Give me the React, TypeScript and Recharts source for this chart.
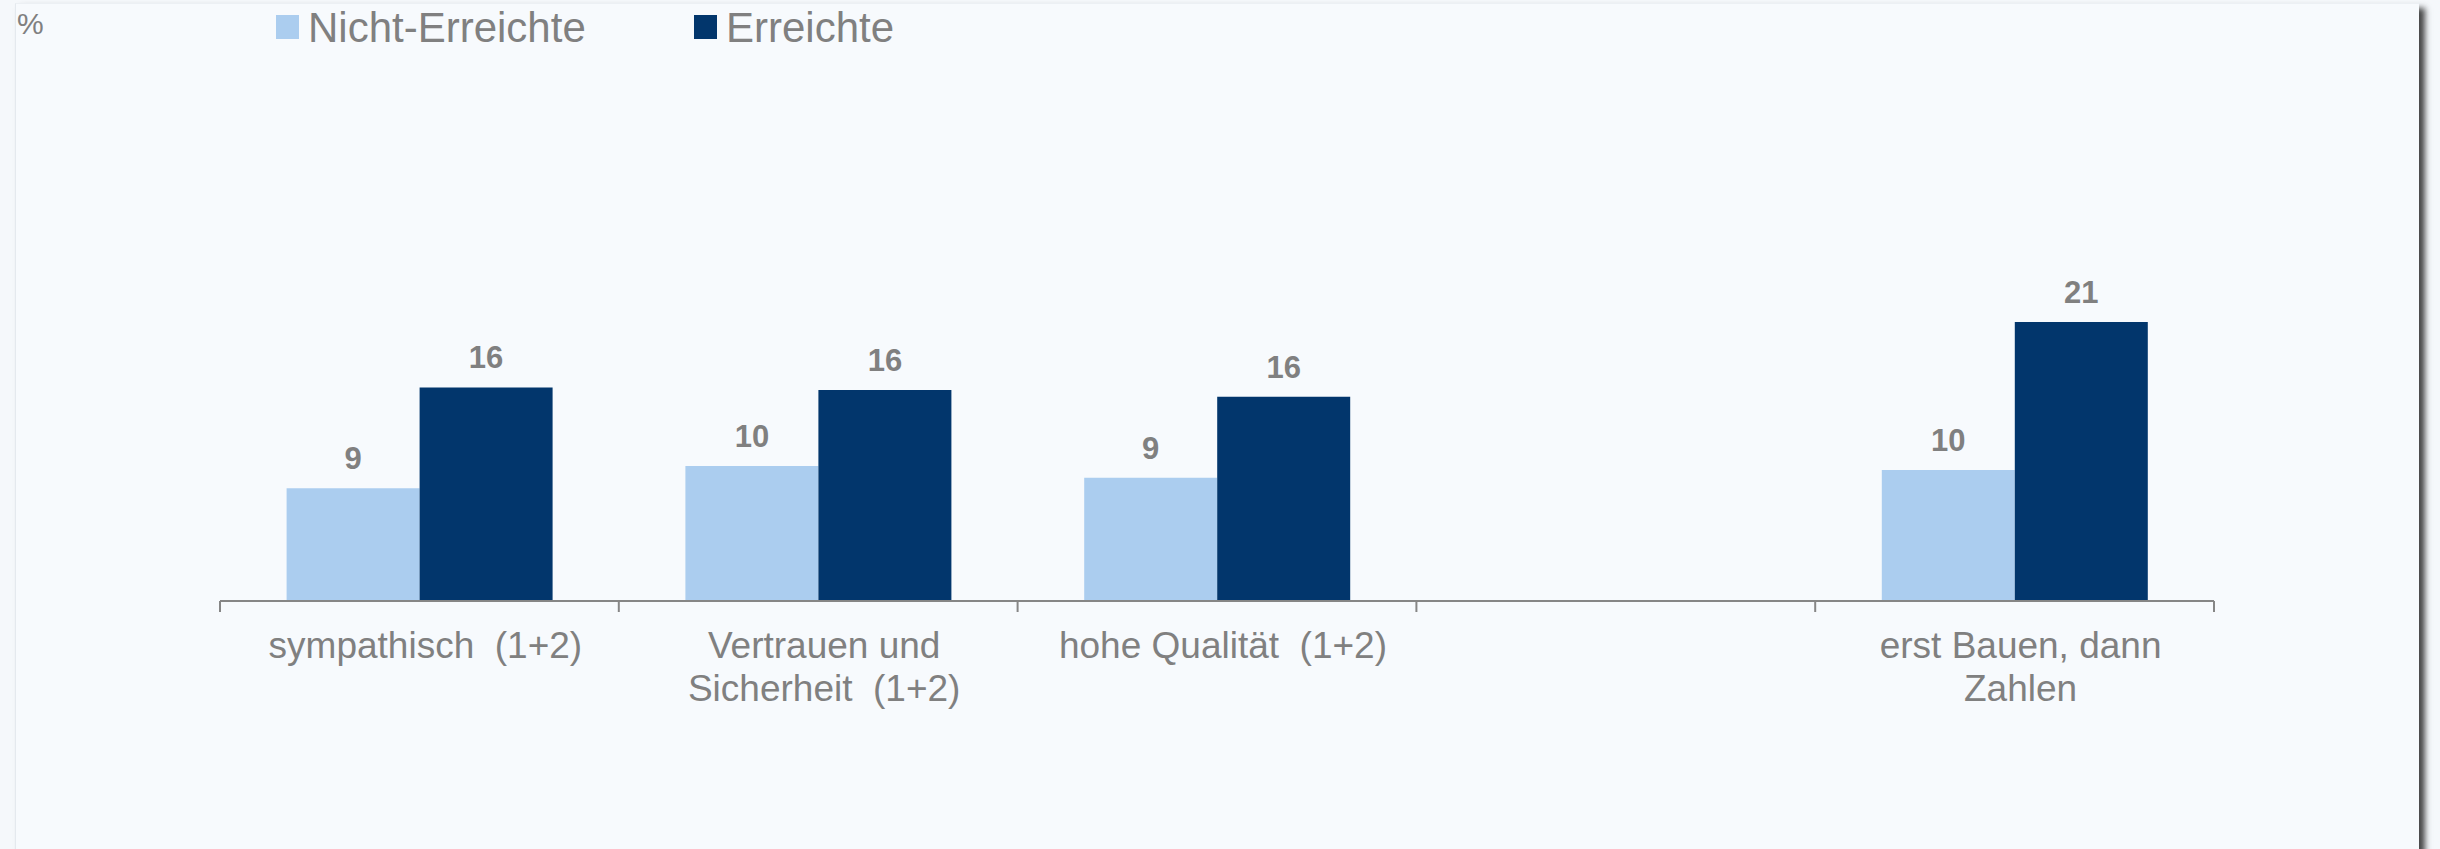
import React from "react";
import { BarChart, Bar, XAxis, YAxis, LabelList } from "recharts";

const categories = [
  "sympathisch  (1+2)",
  "Vertrauen und\nSicherheit  (1+2)",
  "hohe Qualität  (1+2)",
  "",
  "erst Bauen, dann\nZahlen",
];
const nichtErreichte = [8.6, 10.3, 9.4, null, 10.0];
const erreichte = [16.3, 16.1, 15.6, null, 21.3];
const seriesNames = ["Nicht-Erreichte", "Erreichte"];
const seriesColors = ["#ABCDEF", "#02366C"];

const W = 2440;
const H = 849;
const MARGIN = { top: 77, right: 226, bottom: 0, left: 220 };
const BAND = (W - MARGIN.left - MARGIN.right) / categories.length;
const GRAY = "#808080";
const FONT = "'Liberation Sans', Arial, sans-serif";

const data = categories.map((name, i) => ({
  name,
  nicht: nichtErreichte[i],
  erreicht: erreichte[i],
}));

function CategoryTick(props: any) {
  const { x, y, payload, index } = props;
  const lines = String(payload.value).split("\n");
  const left = x - BAND / 2;
  const tx = x + 6;
  return (
    <g>
      <line x1={left} x2={left} y1={y} y2={y + 11} stroke="#868686" strokeWidth={2} />
      {index === categories.length - 1 && (
        <line x1={left + BAND} x2={left + BAND} y1={y} y2={y + 11} stroke="#868686" strokeWidth={2} />
      )}
      <text
        x={tx}
        y={y + 57}
        textAnchor="middle"
        fill={GRAY}
        fontSize={37}
        fontFamily={FONT}
        style={{ whiteSpace: "pre" }}
      >
        {lines.map((l, i) => (
          <tspan key={i} x={tx} dy={i === 0 ? 0 : 43}>
            {l}
          </tspan>
        ))}
      </text>
    </g>
  );
}

const roundLabel = (v: any) => (v == null ? "" : Math.round(v));

export default function App() {
  return (
    <div
      style={{
        position: "absolute",
        left: 0,
        top: 0,
        width: W,
        height: H,
        background: "#F5F8FB",
        overflow: "hidden",
      }}
    >
      <div
        style={{
          position: "absolute",
          left: 15,
          top: 3,
          width: 2403,
          height: 900,
          background: "#F7FAFD",
          borderLeft: "1px solid #E4E9EE",
          borderTop: "1px solid #ECF0F4",
          boxShadow: "6px 5px 6px rgba(40,40,40,0.85)",
        }}
      />
      <svg
        width={W}
        height={60}
        style={{ position: "absolute", left: 0, top: 0 }}
        fontFamily={FONT}
      >
        <text x={17} y={34} fontSize={30} fill={GRAY}>
          %
        </text>
        <rect x={276} y={15} width={23} height={24} fill={seriesColors[0]} />
        <text x={308} y={42} fontSize={42} fill={GRAY}>
          {seriesNames[0]}
        </text>
        <rect x={694} y={15} width={23} height={24} fill={seriesColors[1]} />
        <text x={726} y={42} fontSize={42} fill={GRAY}>
          {seriesNames[1]}
        </text>
      </svg>
      <div style={{ position: "absolute", left: 0, top: 0 }}>
        <BarChart
          width={W}
          height={H}
          data={data}
          margin={MARGIN}
          barGap={0}
          barCategoryGap="16.7%"
        >
          <XAxis
            dataKey="name"
            height={248}
            interval={0}
            tickSize={0}
            tickMargin={0}
            tickLine={false}
            axisLine={{ stroke: "#868686", strokeWidth: 2 }}
            tick={<CategoryTick />}
          />
          <YAxis hide domain={[0, 40]} />
          <Bar dataKey="nicht" name={seriesNames[0]} fill={seriesColors[0]} isAnimationActive={false}>
            <LabelList
              dataKey="nicht"
              position="top"
              offset={19}
              formatter={roundLabel}
              fill={GRAY}
              fontSize={31}
              fontWeight="bold"
              fontFamily={FONT}
            />
          </Bar>
          <Bar dataKey="erreicht" name={seriesNames[1]} fill={seriesColors[1]} isAnimationActive={false}>
            <LabelList
              dataKey="erreicht"
              position="top"
              offset={19}
              formatter={roundLabel}
              fill={GRAY}
              fontSize={31}
              fontWeight="bold"
              fontFamily={FONT}
            />
          </Bar>
        </BarChart>
      </div>
    </div>
  );
}
